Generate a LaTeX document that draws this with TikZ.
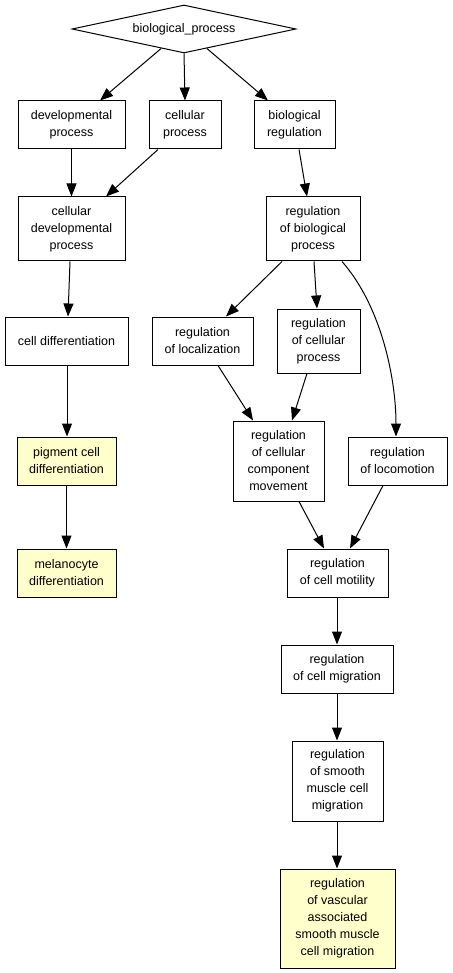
\documentclass[tikz,border=0pt]{standalone}
\usepackage{fontspec}
\setmainfont{Liberation Sans}
\usetikzlibrary{shapes.geometric,arrows.meta}
\definecolor{hl}{HTML}{FFFFCC}
\begin{document}
\begin{tikzpicture}[x=1pt,y=-1pt,
  box/.style={draw=black,line width=1pt,rectangle,inner sep=0pt,align=center,
    font=\fontsize{12.5}{17}\selectfont,fill=white},
  hbox/.style={box,fill=hl},
  arr/.style={line width=1pt,-{Triangle[length=13pt,width=10pt]}}]
\useasboundingbox (0,0) rectangle (452,973);
\node[draw=black,line width=1pt,diamond,aspect=4.67,minimum width=224pt,minimum height=48pt,inner sep=0pt,
  font=\fontsize{12.5}{17}\selectfont] (bp) at (184,29) {biological\_process};
\node[box,minimum width=107pt,minimum height=48pt] (dev) at (71.5,125) {developmental\\process};
\node[box,minimum width=72pt,minimum height=48pt] (cp) at (185,125) {cellular\\process};
\node[box,minimum width=81pt,minimum height=48pt] (br) at (294.5,125) {biological\\regulation};
\node[box,minimum width=107pt,minimum height=64pt] (cdp) at (71.5,229) {cellular\\developmental\\process};
\node[box,minimum width=94pt,minimum height=64pt] (rbp) at (313,229) {regulation\\of biological\\process};
\node[box,minimum width=123pt,minimum height=48pt] (cd) at (66.5,341) {cell differentiation};
\node[box,minimum width=101pt,minimum height=48pt] (rloc) at (202.5,341) {regulation\\of localization};
\node[box,minimum width=83pt,minimum height=64pt] (rcp) at (318.5,341) {regulation\\of cellular\\process};
\node[box,minimum width=91pt,minimum height=80pt] (rccm) at (278.5,461) {regulation\\of cellular\\component\\movement};
\node[box,minimum width=99pt,minimum height=48pt] (rloco) at (397.5,461) {regulation\\of locomotion};
\node[hbox,minimum width=99pt,minimum height=48pt] (pcd) at (66.5,461) {pigment cell\\differentiation};
\node[hbox,minimum width=99pt,minimum height=48pt] (mel) at (66.5,573) {melanocyte\\differentiation};
\node[box,minimum width=101pt,minimum height=48pt] (rmot) at (337.5,573) {regulation\\of cell motility};
\node[box,minimum width=112pt,minimum height=48pt] (rmig) at (337,669) {regulation\\of cell migration};
\node[box,minimum width=91pt,minimum height=80pt] (rsm) at (337.5,781) {regulation\\of smooth\\muscle cell\\migration};
\node[hbox,minimum width=115pt,minimum height=99pt] (rvas) at (337.5,918.5) {regulation\\of vascular\\associated\\smooth muscle\\cell migration};
% edges
\draw[arr] (bp) -- (dev.north -| 100,0);
\draw[arr] (bp.south) -- (cp.north);
\draw[arr] (bp) -- (br.north -| 268,0);
\draw[arr] (dev.south) -- (cdp.north);
\draw[arr] (cp.south -| 158,0) -- (cdp.north -| 106,0);
\draw[arr] (br.south -| 299,0) -- (rbp.north -| 307,0);
\draw[arr] (cdp.south -| 70,0) -- (cd.north -| 68,0);
\draw[arr] (rbp.south -| 282,0) -- (rloc.north -| 226,0);
\draw[arr] (rbp.south -| 314,0) -- (rcp.north -| 317,0);
\draw[arr] (rbp.south -| 342,0) .. controls (382,307) and (396,380) .. (rloco.north -| 396,0);
\draw[arr] (cd.south -| 67,0) -- (pcd.north -| 67,0);
\draw[arr] (rloc.south -| 218,0) -- (rccm.north -| 253,0);
\draw[arr] (rcp.south -| 307,0) -- (rccm.north -| 292,0);
\draw[arr] (pcd.south) -- (mel.north);
\draw[arr] (rccm.south -| 299,0) -- (rmot.north -| 324,0);
\draw[arr] (rloco.south -| 383,0) -- (rmot.north -| 350,0);
\draw[arr] (rmot.south -| 337,0) -- (rmig.north -| 337,0);
\draw[arr] (rmig.south -| 337,0) -- (rsm.north -| 337,0);
\draw[arr] (rsm.south -| 337,0) -- (rvas.north -| 337,0);
\end{tikzpicture}
\end{document}
